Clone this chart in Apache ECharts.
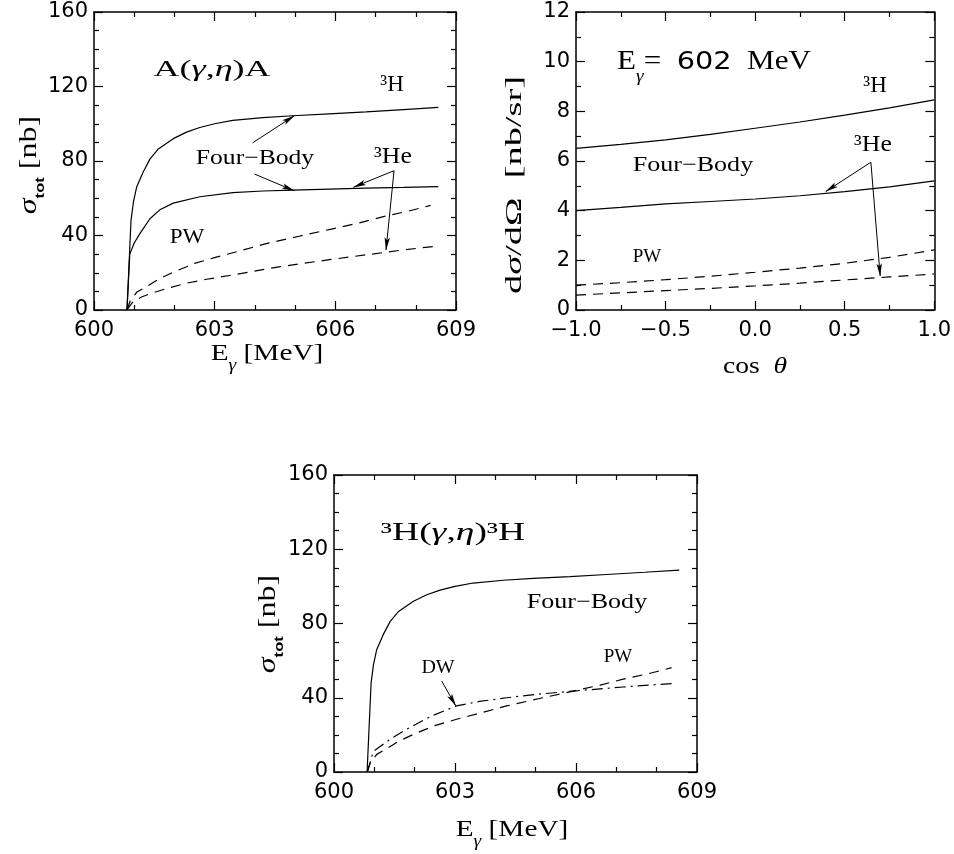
<!DOCTYPE html>
<html>
<head>
<meta charset="utf-8">
<script src="https://cdn.jsdelivr.net/npm/echarts@6/dist/echarts.min.js"></script>
<style>
html, body { margin: 0; padding: 0; background: #fff; }
#main { width: 954px; height: 854px; }
</style>
</head>
<body>
<div id="main"></div>
<script>
// ---- values ----
// total cross sections vs photon energy [MeV], sigma in nb
const eH4b  = [600.82, 600.92, 600.98, 601.06, 601.22, 601.39, 601.6, 601.97, 602.3, 602.63, 603.0, 603.45, 604.2, 604.94, 605.85, 606.76, 607.7, 608.56];
const sH4b  = [0, 48, 58, 66, 74, 81, 86.5, 92, 95.5, 98, 100, 101.8, 103.3, 104.3, 105.3, 106.4, 107.6, 108.8];

const eHe4b = [600.82, 600.89, 601.0, 601.14, 601.39, 601.65, 601.97, 602.63, 603.45, 604.2, 604.94, 605.85, 606.76, 607.7, 608.56];
const sHe4b = [0, 30, 36, 41, 49, 54, 57.4, 60.8, 63, 63.9, 64.4, 64.9, 65.4, 65.8, 66.2];

const eHpw  = [600.82, 600.9, 601.06, 601.3, 601.6, 602.0, 602.5, 603.04, 603.6, 604.28, 605.1, 605.93, 606.6, 607.17, 607.8, 608.37];
const sHpw  = [0, 5, 9.5, 12.5, 16.5, 20.6, 25, 28.4, 31.6, 35.6, 39.6, 43.6, 46.8, 50, 53, 56.2];

const eHepw = [600.82, 600.95, 601.18, 601.43, 601.8, 602.3, 602.8, 603.5, 604.6, 605.85, 606.9, 607.7, 608.56];
const sHepw = [0, 4, 7, 9, 11.5, 14.4, 16.5, 19, 23.2, 27, 30, 32.3, 34.4];

const eDw   = [600.83, 600.97, 601.39, 601.8, 602.4, 603.04, 603.6, 604.28, 605.1, 605.93, 606.6, 607.17, 607.8, 608.37];
const sDw   = [0, 11, 17.6, 23, 30, 35.6, 38, 40, 42, 43.6, 44.8, 45.8, 46.8, 47.6];

// differential cross sections at 602 MeV [nb/sr]
const cosT   = [-1, -0.75, -0.5, -0.25, 0, 0.25, 0.5, 0.75, 1];
const dsH4b  = [6.51, 6.67, 6.85, 7.07, 7.32, 7.57, 7.85, 8.14, 8.46];
const dsHe4b = [4.0, 4.13, 4.27, 4.37, 4.47, 4.6, 4.77, 4.96, 5.2];
const dsHpw  = [1.0, 1.1, 1.22, 1.36, 1.52, 1.69, 1.88, 2.12, 2.42];
const dsHepw = [0.6, 0.69, 0.78, 0.87, 0.97, 1.08, 1.21, 1.33, 1.45];

// tick labels
const eTicks   = ['600', '603', '606', '609'];
const sigTicks = ['0', '40', '80', '120', '160'];
const cosTicks = ['\u22121.0', '\u22120.5', '0.0', '0.5', '1.0'];
const dsTicks  = ['0', '2', '4', '6', '8', '10', '12'];

// annotation arrows, [from, to] in data units
const arrows1 = [
  [[603.94, 89.7], [604.98, 104.3]],
  [[603.99, 73.0], [604.98, 64.0]],
  [[607.46, 74.8], [606.45, 65.9]],
  [[607.46, 74.8], [607.26, 32.2]]
];
const arrows2 = [
  [[0.646, 5.95], [0.394, 4.77]],
  [[0.646, 5.95], [0.698, 1.37]]
];
const arrows3 = [
  [[602.67, 49.0], [603.02, 35.6]]
];

const zip = (xs, ys) => xs.map((x, i) => [x, ys[i]]);

const SERIF = 'Liberation Serif';
const TICKFONT = 'DejaVu Sans';
// narrow arrow head, tip at the top
const HEAD = 'path://M5,0 L10,24 L5,19 L0,24 Z';

function axis(gridIndex, position, min, max, interval, minorSplit, labels, margin) {
  return {
    type: 'value', gridIndex, position, min, max, interval,
    axisLine: { show: true, onZero: false, lineStyle: { color: '#000', width: 1.5 } },
    axisTick: { show: true, inside: true, length: 9, lineStyle: { color: '#000', width: 1.2 } },
    minorTick: { show: true, splitNumber: minorSplit, length: 5, lineStyle: { color: '#000', width: 1.2 } },
    splitLine: { show: false },
    minorSplitLine: { show: false },
    axisLabel: {
      show: !!labels,
      margin: margin || 8,
      color: '#000',
      fontFamily: TICKFONT,
      fontSize: 21,
      formatter: v => labels ? labels[Math.round((v - min) / interval)] : ''
    }
  };
}

function curve(grid, data, dash, marks) {
  const s = {
    type: 'line', xAxisIndex: grid * 2, yAxisIndex: grid * 2, data,
    symbol: 'none', showSymbol: false, smooth: false,
    silent: true, animation: false,
    lineStyle: { color: '#000', width: 1.2, type: dash || 'solid' }
  };
  if (marks) {
    s.markLine = {
      silent: true, animation: false,
      symbol: ['none', HEAD], symbolSize: 13, symbolKeepAspect: true,
      symbolOffset: [0, [0, 6]],
      label: { show: false },
      lineStyle: { color: '#000', width: 1, type: 'solid' },
      itemStyle: { color: '#000' },
      emphasis: { disabled: true },
      data: marks.map(a => [{ coord: a[0] }, { coord: a[1] }])
    };
  }
  return s;
}

// rich-text styles for labels
function rich(size, subSize, lh) {
  return {
    r: { fontFamily: SERIF, fontSize: size, lineHeight: lh, fill: '#000' },
    g: { fontFamily: SERIF, fontStyle: 'italic', fontSize: size, lineHeight: lh, fill: '#000' },
    n: { fontFamily: TICKFONT, fontSize: size - 2, lineHeight: lh, fill: '#000' },
    s: { fontFamily: SERIF, fontStyle: 'italic', fontSize: subSize, lineHeight: subSize, verticalAlign: 'bottom', fill: '#000' },
    t: { fontFamily: 'Liberation Sans', fontWeight: 'bold', fontSize: subSize, lineHeight: subSize, verticalAlign: 'bottom', fill: '#000' }
  };
}

function label(x, y, text, size, sx, opts) {
  opts = opts || {};
  return {
    type: 'text', x, y, scaleX: sx || 1, rotation: opts.rot || 0, silent: true,
    style: {
      text, fill: '#000', align: opts.align || 'center', verticalAlign: 'middle',
      rich: rich(size, opts.sub || Math.round(size * 0.62), opts.lh || Math.round(size * 1.55))
    }
  };
}

const UP = Math.PI / 2;

const option = {
  animation: false,
  backgroundColor: '#fff',
  grid: [
    { left: 94, top: 12, width: 362, height: 298 },
    { left: 576, top: 12, width: 362, height: 298 },
    { left: 334, top: 475, width: 363, height: 297 }
  ],
  xAxis: [
    axis(0, 'bottom', 600, 609, 3, 3, eTicks, 10),
    axis(0, 'top', 600, 609, 3, 3, null),
    axis(1, 'bottom', -1, 1, 0.5, 2, cosTicks, 10),
    axis(1, 'top', -1, 1, 0.5, 2, null),
    axis(2, 'bottom', 600, 609, 3, 3, eTicks, 10),
    axis(2, 'top', 600, 609, 3, 3, null)
  ],
  yAxis: [
    axis(0, 'left', 0, 160, 40, 4, sigTicks, 6),
    axis(0, 'right', 0, 160, 40, 4, null),
    axis(1, 'left', 0, 12, 2, 2, dsTicks, 6),
    axis(1, 'right', 0, 12, 2, 2, null),
    axis(2, 'left', 0, 160, 40, 4, sigTicks, 6),
    axis(2, 'right', 0, 160, 40, 4, null)
  ],
  series: [
    // panel 1: A(gamma,eta)A
    curve(0, zip(eH4b, sH4b)),
    curve(0, zip(eHe4b, sHe4b), 'solid', arrows1),
    curve(0, zip(eHpw, sHpw), [10, 7]),
    curve(0, zip(eHepw, sHepw), [10, 7]),
    // panel 2: angular distribution at 602 MeV
    curve(1, zip(cosT, dsH4b)),
    curve(1, zip(cosT, dsHe4b), 'solid', arrows2),
    curve(1, zip(cosT, dsHpw), [10, 7]),
    curve(1, zip(cosT, dsHepw), [10, 7]),
    // panel 3: 3H(gamma,eta)3H
    curve(2, zip(eH4b, sH4b)),
    curve(2, zip(eHpw, sHpw), [10, 7]),
    curve(2, zip(eDw, sDw), [11, 5, 2, 5], arrows3)
  ],
  graphic: [
    // panel 1
    label(212, 70, '{r|A(}{g|\u03b3}{r|,}{g|\u03b7}{r|)A}', 24, 1.5),
    label(392, 85, '{r|\u00b3H}', 23, 1),
    label(393, 157, '{r|\u00b3He}', 23, 1.12),
    label(255, 158, '{r|Four\u2212Body}', 21, 1.22),
    label(187, 237, '{r|PW}', 21, 1.1),
    label(29, 165, '{g|\u03c3}{t|tot}{r| [nb]}', 25, 1.28, { rot: UP, sub: 13, lh: 36 }),
    label(267, 354, '{r|E}{s|\u03b3}{r| [MeV]}', 24, 1.22, { sub: 16, lh: 40 }),
    // panel 2
    label(617, 62, '{r|E}{s|\u03b3}{r|=  }{n|602}{r|  MeV}', 27, 1.15, { align: 'left', sub: 17, lh: 46 }),
    label(875, 86, '{r|\u00b3H}', 23, 1),
    label(873, 145, '{r|\u00b3He}', 23, 1.12),
    label(693, 165, '{r|Four\u2212Body}', 21, 1.24),
    label(647, 257, '{r|PW}', 19, 1),
    label(515, 185, '{r|d}{g|\u03c3}{r|/d\u03a9  [nb/sr]}', 24, 1.6, { rot: UP }),
    label(755, 367, '{r|cos  }{g|\u03b8}', 23, 1.2),
    // panel 3
    label(453, 533, '{r|\u00b3H(}{g|\u03b3}{r|,}{g|\u03b7}{r|)\u00b3H}', 25, 1.5),
    label(587, 602, '{r|Four\u2212Body}', 21, 1.24),
    label(618, 657, '{r|PW}', 19, 1),
    label(438, 668, '{r|DW}', 19, 1.05),
    label(268, 624, '{g|\u03c3}{t|tot}{r| [nb]}', 25, 1.28, { rot: UP, sub: 13, lh: 36 }),
    label(512, 830, '{r|E}{s|\u03b3}{r| [MeV]}', 24, 1.22, { sub: 16, lh: 40 })
  ]
};

const chart = echarts.init(document.getElementById('main'));
chart.setOption(option);
</script>
</body>
</html>
